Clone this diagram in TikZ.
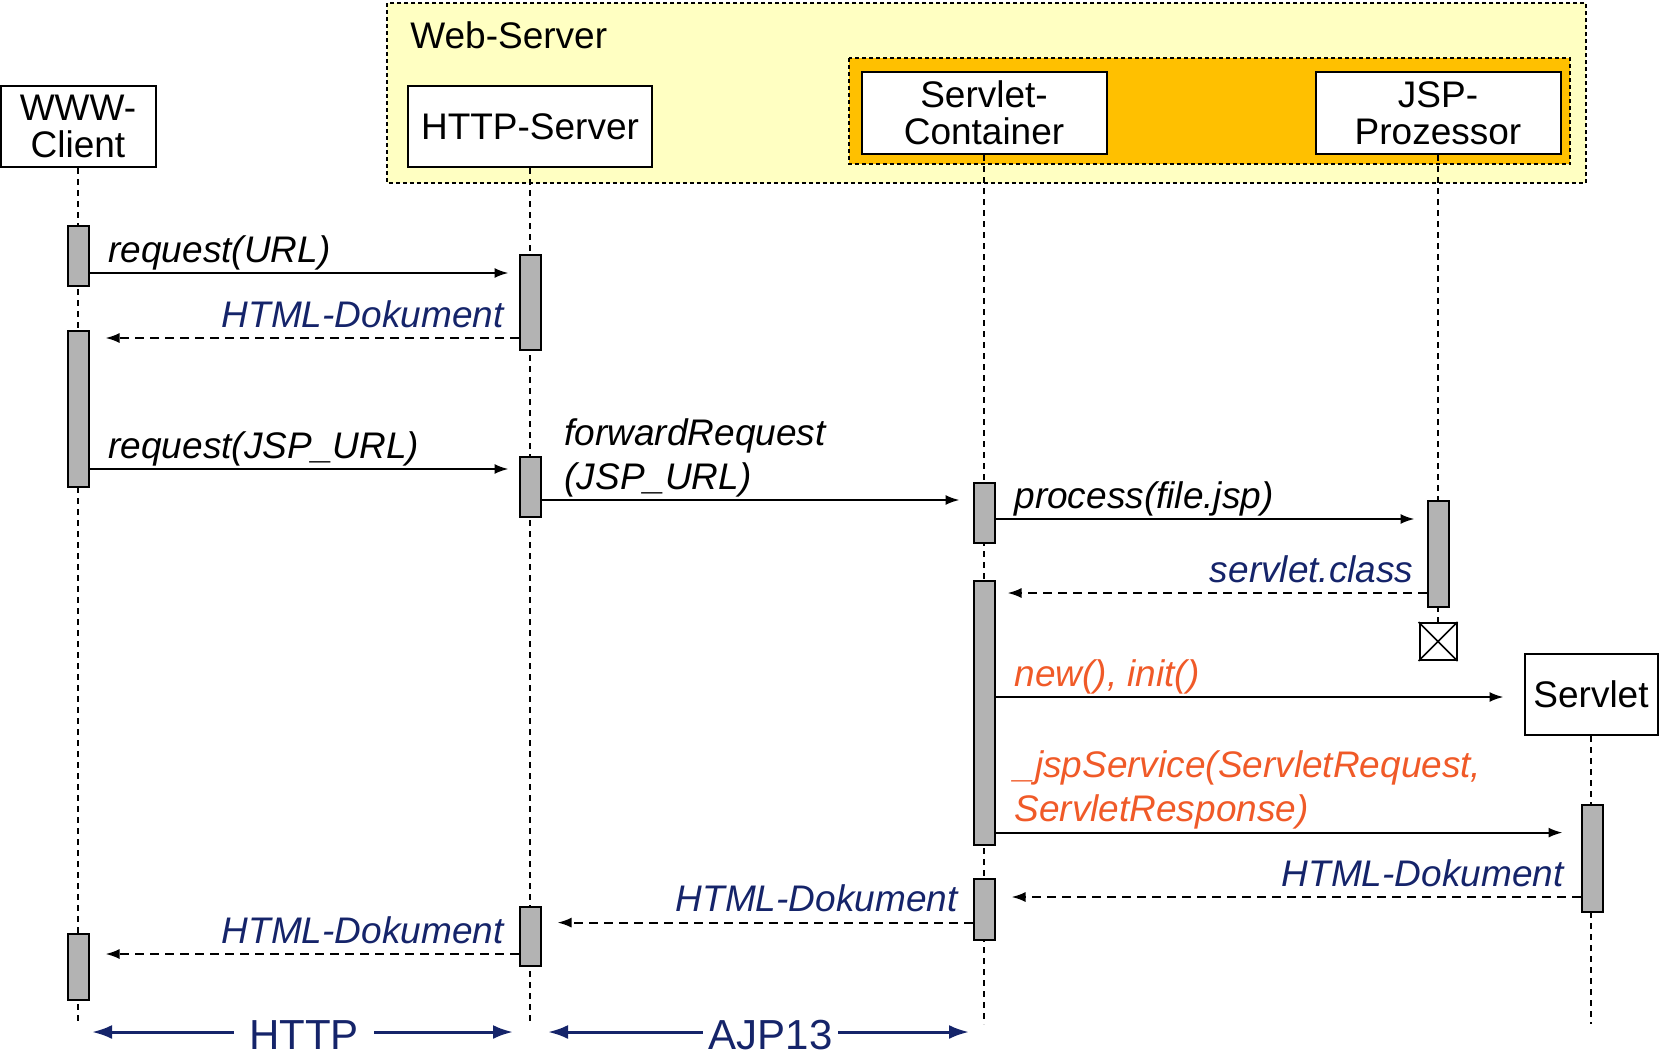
\documentclass[tikz,border=0pt]{standalone}
\usepackage{fontspec}
\setmainfont{Liberation Sans}
\usetikzlibrary{arrows.meta}
\definecolor{navy}{HTML}{15246A}
\definecolor{rust}{HTML}{F05A28}
\definecolor{paleyellow}{HTML}{FFFFC2}
\definecolor{amber}{HTML}{FFC000}
\definecolor{bargray}{HTML}{B3B3B3}
\newcommand{\headfont}{\fontsize{18.5}{18.5}\selectfont}
\newcommand{\lblfont}{\fontsize{18.5}{22}\selectfont\itshape}
\newcommand{\protofont}{\fontsize{21}{21}\selectfont}

\begin{document}
\begin{tikzpicture}[x=0.5pt,y=-0.5pt,
  head/.style={draw,line width=1pt,fill=white,font=\headfont,align=center,inner sep=0pt},
  bar/.style={draw,line width=1pt,fill=bargray,minimum width=10.5pt,inner sep=0pt},
  life/.style={line width=.75pt,dash pattern=on 3pt off 2.5pt},
  msg/.style={line width=1pt,-{Latex[length=7pt,width=5pt]},shorten >=5pt},
  ret/.style={msg,dash pattern=on 4.5pt off 3pt,shorten >=8pt},
  lbl/.style={font=\lblfont,inner sep=0pt,align=left,yshift=-1.6pt,execute at end node=\strut},
  fwd/.style={lbl,anchor=south west,xshift=9pt},
  back/.style={lbl,anchor=south east,xshift=-7pt,text=navy},
  proto/.style={navy,line width=1.5pt,{Latex[length=10pt,width=7pt]}-{Latex[length=10pt,width=7pt]}},
  protolbl/.style={font=\protofont,fill=white,text=navy,inner xsep=7.5pt,inner ysep=1pt,yshift=-1.5pt}]
\useasboundingbox (0,0) rectangle (1661,1056);

% Web-Server und Container
\draw[line width=1pt,dash pattern=on 2pt off 1.5pt,fill=paleyellow] (387,3) rectangle (1586,183);
\node[font=\headfont,anchor=base west,inner sep=0pt] (ws) at (410,48) {Web-Server};
\draw[line width=1pt,dash pattern=on 2pt off 1.5pt,fill=amber] (848.5,58) rectangle (1570,164);

% Objekte
\node[head,minimum width=77.5pt,minimum height=40.5pt] (cl) at (78,126.5) {WWW-\\Client};
\node[head,minimum width=122pt,minimum height=40.5pt] (hs) at (530,126.5) {HTTP-Server};
\node[head,minimum width=122.5pt,minimum height=41pt] (sc) at (984,113) {Servlet-\\Container};
\node[head,minimum width=122.5pt,minimum height=41pt] (jsp) at (1438,113) {JSP-\\Prozessor};
\node[head,minimum width=66.5pt,minimum height=40.5pt] (sv) at (1591,694.5) {Servlet};
\node[draw,line width=1pt,fill=white,minimum size=18.5pt,inner sep=0pt] (kill) at (1438,641.5) {};
\draw[line width=.75pt] (kill.north west) -- (kill.south east) (kill.north east) -- (kill.south west);

% Lebenslinien
\coordinate (bot) at (0,1024);
\foreach \n in {cl,hs,sc,sv} \draw[life] (\n.south) -- (\n.south |- bot);
\draw[life] (jsp.south) -- (kill.north);

% Aktivierungen
\node[bar,minimum height=30.2pt] (cb1) at (78,256) {};
\node[bar,minimum height=77.75pt] (cb2) at (78,409) {};
\node[bar,minimum height=33pt] (cb3) at (78,967) {};
\node[bar,minimum height=47.3pt] (hb1) at (530,302.3) {};
\node[bar,minimum height=30.25pt] (hb2) at (530,486.8) {};
\node[bar,minimum height=29.5pt] (hb3) at (530,936.5) {};
\node[bar,minimum height=30pt] (sb1) at (984,513) {};
\node[bar,minimum height=132.25pt] (sb2) at (984,712.8) {};
\node[bar,minimum height=30.5pt] (sb3) at (984,909.5) {};
\node[bar,minimum height=53pt] (jb1) at (1438,554) {};
\node[bar,minimum height=53.5pt] (vb1) at (1592,858.5) {};

% Nachrichten
\coordinate (m1) at (0,273);
\coordinate (m2) at (0,338);
\coordinate (m3) at (0,469);
\coordinate (m4) at (0,500);
\coordinate (m5) at (0,519);
\coordinate (m6) at (0,593);
\coordinate (m7) at (0,697);
\coordinate (m8) at (0,832.6);
\coordinate (m9) at (0,897);
\coordinate (m10) at (0,922.6);
\coordinate (m11) at (0,954);
\draw[msg] (cb1.east |- m1) -- (hb1.west |- m1) node[pos=0,fwd] {request(URL)};
\draw[ret] (hb1.west |- m2) -- (cb2.east |- m2) node[pos=0,back] {HTML-Dokument};
\draw[msg] (cb2.east |- m3) -- (hb2.west |- m3) node[pos=0,fwd] {request(JSP\_URL)};
\draw[msg,shorten >=6.5pt] (hb2.east |- m4) -- (sb1.west |- m4) node[pos=0,fwd,xshift=2pt] {forwardRequest\\(JSP\_URL)};
\draw[msg,shorten >=6pt] (sb1.east |- m5) -- (jb1.west |- m5) node[pos=0,fwd] {process(file.jsp)};
\draw[ret,shorten >=6pt] (jb1.west |- m6) -- (sb2.east |- m6) node[pos=0,back,xshift=1pt] {servlet.class};
\draw[msg,shorten >=10pt] (sb2.east |- m7) -- (sv.west |- m7) node[pos=0,fwd,text=rust] {new(), init()};
\draw[msg,shorten >=9pt] (sb2.east |- m8) -- (vb1.west |- m8) node[pos=0,fwd,text=rust] {\_jspService(ServletRequest,\\ServletResponse)};
\draw[ret] (vb1.west |- m9) -- (sb3.east |- m9) node[pos=0,back,xshift=-1pt] {HTML-Dokument};
\draw[ret] (sb3.west |- m10) -- (hb3.east |- m10) node[pos=0,back] {HTML-Dokument};
\draw[ret] (hb3.west |- m11) -- (cb3.east |- m11) node[pos=0,back] {HTML-Dokument};

% Protokolle
\coordinate (p1) at (78,1032);
\coordinate (p2) at (530,1032);
\coordinate (p3) at (984,1032);
\draw[proto,shorten <=7pt,shorten >=8.5pt] (p1) -- (p2) node[pos=.5,protolbl] {HTTP};
\draw[proto,shorten <=9pt,shorten >=7.5pt] (p2) -- (p3) node[pos=.53,protolbl,inner xsep=3pt] {AJP13};
\end{tikzpicture}
\end{document}
